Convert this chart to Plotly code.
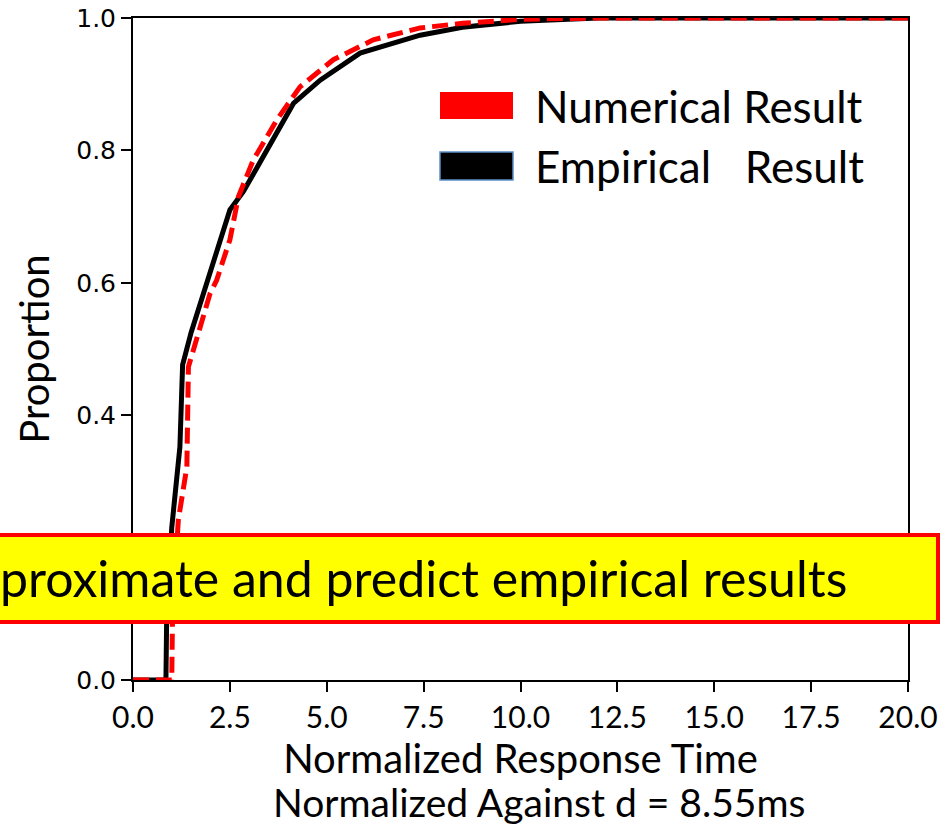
import plotly.graph_objects as go

# Empirical result (black solid)
emp_x = [0, 0.85, 0.87, 0.95, 1.0, 1.21, 1.28, 1.5, 1.94, 2.5, 2.85, 3.45, 4.14, 4.83, 5.86, 7.41, 8.5, 10.0, 12.0, 20.0]
emp_y = [0, 0, 0.1, 0.2, 0.23, 0.352, 0.476, 0.525, 0.604, 0.71, 0.738, 0.80, 0.871, 0.906, 0.947, 0.974, 0.986, 0.995, 1.0, 1.0]

# Numerical result (red dashed)
num_x = [0, 1.0, 1.02, 1.17, 1.39, 1.43, 1.99, 2.16, 2.5, 2.72, 3.1, 3.71, 4.31, 5.17, 6.2, 7.41, 8.5, 10.0, 12.0, 20.0]
num_y = [0, 0, 0.1, 0.242, 0.322, 0.473, 0.584, 0.604, 0.665, 0.73, 0.785, 0.846, 0.896, 0.937, 0.967, 0.985, 0.992, 0.998, 1.0, 1.0]

x_ticks = [0, 2.5, 5, 7.5, 10, 12.5, 15, 17.5, 20]
x_tick_labels = ["0.0", "2.5", "5.0", "7.5", "10.0", "12.5", "15.0", "17.5", "20.0"]
y_ticks = [0, 0.2, 0.4, 0.6, 0.8, 1.0]
y_tick_labels = ["0.0", "0.2", "0.4", "0.6", "0.8", "1.0"]

SANS = "Lato, 'Open Sans', sans-serif"

fig = go.Figure()
fig.add_trace(go.Scatter(x=emp_x, y=emp_y, mode="lines", name="Empirical   Result",
                         line=dict(color="black", width=5), showlegend=False))
fig.add_trace(go.Scatter(x=num_x, y=num_y, mode="lines", name="Numerical Result",
                         line=dict(color="#ff0000", width=5, dash="16px,7px"), showlegend=False))

W, H = 951, 827
ml, mr, mt, mb = 133, 43, 18, 147
pw, ph = W - ml - mr, H - mt - mb

def px(xp):
    return (xp - ml) / pw

def py(yp):
    return 1 - (yp - mt) / ph

shapes = [
    # legend swatches
    dict(type="rect", xref="paper", yref="paper", x0=px(440), x1=px(513), y0=py(119), y1=py(92),
         fillcolor="#ff0000", line=dict(width=0)),
    dict(type="rect", xref="paper", yref="paper", x0=px(440), x1=px(513), y0=py(180), y1=py(152),
         fillcolor="black", line=dict(color="#5b8fc7", width=1.5)),
    # yellow callout box
    dict(type="rect", xref="paper", yref="paper", x0=px(-20), x1=px(938), y0=py(622), y1=py(535),
         fillcolor="#ffff00", line=dict(color="#ff0000", width=4), layer="above"),
]

annotations = [
    dict(text="Numerical Result", xref="paper", yref="paper", x=px(533), y=py(106),
         xanchor="left", yanchor="middle", showarrow=False,
         font=dict(family=SANS, size=44, color="black")),
    dict(text="Empirical   Result", xref="paper", yref="paper", x=px(533), y=py(166),
         xanchor="left", yanchor="middle", showarrow=False,
         font=dict(family=SANS, size=44, color="black")),
    dict(text="proximate and predict empirical results", xref="paper", yref="paper", x=px(-2), y=py(578),
         xanchor="left", yanchor="middle", showarrow=False,
         font=dict(family=SANS, size=50, color="black")),
    dict(text="Normalized Against d = 8.55ms", xref="paper", yref="paper", x=px(539), y=py(802),
         xanchor="center", yanchor="middle", showarrow=False,
         font=dict(family=SANS, size=39, color="black")),
]

fig.update_layout(
    width=W, height=H,
    margin=dict(l=ml, r=mr, t=mt, b=mb, autoexpand=False),
    plot_bgcolor="white", paper_bgcolor="white",
    shapes=shapes, annotations=annotations,
    xaxis=dict(range=[0, 20], tickvals=x_ticks, ticktext=x_tick_labels, automargin=False,
               showgrid=False, zeroline=False, showline=True, linecolor="black", linewidth=2,
               mirror=True, ticks="outside", ticklen=10, tickwidth=2, tickcolor="black",
               tickfont=dict(family=SANS, size=30, color="black"),
               title=dict(text="Normalized Response Time", standoff=6,
                          font=dict(family=SANS, size=40, color="black"))),
    yaxis=dict(range=[0, 1], tickvals=y_ticks, ticktext=y_tick_labels, automargin=False,
               showgrid=False, zeroline=False, showline=True, linecolor="black", linewidth=2,
               mirror=True, ticks="outside", ticklen=10, tickwidth=2, tickcolor="black",
               tickfont=dict(family="DejaVu Sans", size=25, color="black"),
               title=dict(text="Proportion", standoff=14,
                          font=dict(family=SANS, size=40, color="black"))),
)

fig.write_html("out.html")
